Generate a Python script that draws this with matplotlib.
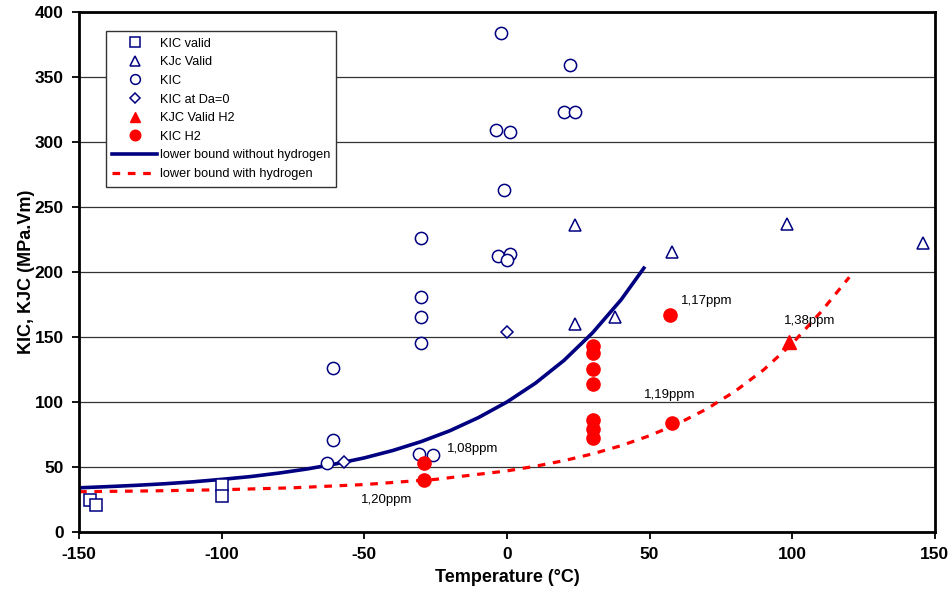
import numpy as np
import matplotlib.pyplot as plt

plt.rcParams['font.family'] = ['Liberation Sans', 'DejaVu Sans']
plt.rcParams['axes.unicode_minus'] = False

navy = '#000080'
red = '#ff0000'

# KIC valid (squares)
kic_valid_t = [-146, -144, -100, -100]
kic_valid_k = [25, 21, 36, 28]

# KJc valid (open triangles)
kjc_valid_t = [24, 24, 38, 58, 98, 146]
kjc_valid_k = [236, 160, 165, 215, 237, 222]

# KIC (open circles)
kic_t = [-2, 22, 20, 24, -4, 1, -1, -3, 1, 0, -30, -30, -30, -30, -61, -61, -63, -31, -26]
kic_k = [384, 359, 323, 323, 309, 308, 263, 212, 214, 209, 226, 181, 165, 145, 126, 71, 53, 60, 59]

# KIC at Da=0 (diamonds)
kic_da0_t = [-57, 0]
kic_da0_k = [54, 154]

# KJC valid H2 (filled triangle)
kjc_h2_t = [99]
kjc_h2_k = [146]

# KIC H2 (filled circles)
kic_h2_t = [-29, -29, 30, 30, 30, 30, 30, 30, 30, 57, 58]
kic_h2_k = [53, 40, 143, 138, 125, 114, 86, 79, 72, 167, 84]

# lower bound without hydrogen
lb_t = [-150, -140, -130, -120, -110, -100, -90, -80, -70, -60, -50, -40, -30,
        -20, -10, 0, 10, 20, 30, 40, 48]
lb_k = [34.0, 34.9, 35.9, 37.1, 38.6, 40.5, 42.6, 45.3, 48.5, 52.4, 57.0, 62.7,
        69.6, 77.9, 88.0, 100.0, 114.5, 132.0, 153.2, 178.6, 203.0]

# lower bound with hydrogen
lbh_t = [-150, -125, -100, -75, -50, -25, 0, 10, 20, 30, 40, 50, 60, 70, 80,
         90, 100, 110, 120]
lbh_k = [31.0, 31.6, 32.5, 34.0, 36.5, 40.5, 47.0, 50.6, 54.9, 60.1, 66.4, 74.1,
         83.4, 94.6, 108.3, 124.8, 144.9, 169.1, 196.0]

# ppm labels
ppm_text = ['1,08ppm', '1,20ppm', '1,17ppm', '1,19ppm', '1,38ppm']
ppm_t = [-21, -51, 61, 48, 97]
ppm_k = [64, 25, 178, 105, 162]

fig = plt.figure(figsize=(9.52, 5.9), dpi=100)
ax = fig.add_axes([0.083, 0.0983, 0.899, 0.8814])

ax.set_xlim(-150, 150)
ax.set_ylim(0, 400)
ax.set_xticks(np.arange(-150, 151, 50))
ax.set_yticks(np.arange(0, 401, 50))
ax.yaxis.grid(True, color='#333333', lw=0.9)
ax.set_axisbelow(True)

mk = dict(linestyle='none', markerfacecolor='white', markeredgecolor=navy,
          markeredgewidth=1.1, zorder=3)
ax.plot(kic_valid_t, kic_valid_k, marker='s', ms=8.8, label='KIC valid', **mk)
ax.plot(kjc_valid_t, kjc_valid_k, marker='^', ms=8.5, label='KJc Valid', **mk)
ax.plot(kic_t, kic_k, marker='o', ms=8.8, label='KIC', **mk)
ax.plot(kic_da0_t, kic_da0_k, marker='D', ms=6.2, label='KIC at Da=0', **mk)
ax.plot(kjc_h2_t, kjc_h2_k, marker='^', ms=9.5, linestyle='none', color=red,
        label='KJC Valid H2', zorder=4)
ax.plot(kic_h2_t, kic_h2_k, marker='o', ms=9.5, linestyle='none', color=red,
        label='KIC H2', zorder=4)
ax.plot(lb_t, lb_k, color=navy, lw=2.6, label='lower bound without hydrogen', zorder=2)
ax.plot(lbh_t, lbh_k, color=red, lw=2.3, dashes=(2.4, 2.4),
        label='lower bound with hydrogen', zorder=2)

for s, t, k in zip(ppm_text, ppm_t, ppm_k):
    ax.text(t, k, s, fontsize=9.5, va='center', ha='left')

for sp in ax.spines.values():
    sp.set_linewidth(2)
ax.tick_params(direction='out', length=5, width=1.3, labelsize=12.5, pad=6)
for lbl in ax.get_xticklabels() + ax.get_yticklabels():
    lbl.set_fontweight('bold')

ax.set_xlabel('Temperature (°C)', fontsize=13, fontweight='bold', labelpad=5)
ax.set_ylabel('KIC, KJC (MPa.Vm)', fontsize=13, fontweight='bold', labelpad=0)

leg = ax.legend(loc='upper left', bbox_to_anchor=(0.0315, 0.963), borderaxespad=0,
                fontsize=9.2, handlelength=3.5, handletextpad=0.2, labelspacing=0.52,
                markerscale=0.8, fancybox=False, framealpha=1, edgecolor='#333333',
                borderpad=0.5)
leg.get_frame().set_linewidth(1)

fig.savefig('out.png', dpi=100)
